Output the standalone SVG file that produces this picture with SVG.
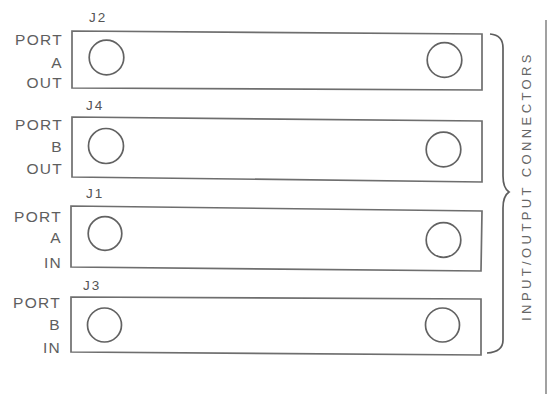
<svg xmlns="http://www.w3.org/2000/svg" width="549" height="394" viewBox="0 0 549 394">
<style>
.bg{fill:#ffffff}
.box{fill:none;stroke:#6e6e6e;stroke-width:1.7}
.hole{fill:none;stroke:#626262;stroke-width:1.7}
.lbl{font-family:"Liberation Sans",Arial,sans-serif;font-size:15.5px;fill:#5e5e5e;letter-spacing:1.3px;text-anchor:end}
.jn{font-family:"Liberation Sans",Arial,sans-serif;font-size:13.5px;fill:#555555;letter-spacing:2px}
.side{font-family:"Liberation Sans",Arial,sans-serif;font-size:13px;fill:#666666;letter-spacing:3.4px;text-anchor:middle}
.brace{fill:none;stroke:#5e5e5e;stroke-width:1.7}
.edge{fill:none;stroke:#8a8a8a;stroke-width:1.6}
</style>
<rect class="bg" x="0" y="0" width="549" height="394"/>
<g id="J2">
<text class="jn" x="89" y="22">J2</text>
<text class="lbl" x="63" y="45">PORT</text>
<text class="lbl" x="63" y="68">A</text>
<text class="lbl" x="63" y="88">OUT</text>
<path class="box" d="M72,31 L482,34 L482,90 L72,88 Z"/>
<circle class="hole" cx="106.5" cy="57.5" r="17.3"/>
<circle class="hole" cx="444.5" cy="60" r="17.3"/>
</g>
<g id="J4">
<text class="jn" x="86" y="110">J4</text>
<text class="lbl" x="63" y="130">PORT</text>
<text class="lbl" x="63" y="152">B</text>
<text class="lbl" x="63" y="174">OUT</text>
<path class="box" d="M72,117 L482,121 L482,182 L72,177 Z"/>
<circle class="hole" cx="106" cy="146" r="17.5"/>
<circle class="hole" cx="443.5" cy="149.5" r="17.3"/>
</g>
<g id="J1">
<text class="jn" x="86" y="198">J1</text>
<text class="lbl" x="62" y="222">PORT</text>
<text class="lbl" x="62" y="243">A</text>
<text class="lbl" x="62" y="268">IN</text>
<path class="box" d="M71,206 L482,211 L481,271 L71,267 Z"/>
<circle class="hole" cx="105" cy="233.5" r="16.8"/>
<circle class="hole" cx="443.5" cy="240" r="17.3"/>
</g>
<g id="J3">
<text class="jn" x="83" y="290">J3</text>
<text class="lbl" x="61" y="308">PORT</text>
<text class="lbl" x="61" y="330">B</text>
<text class="lbl" x="61" y="353">IN</text>
<path class="box" d="M71,297 L481,299 L481,355 L71,352 Z"/>
<circle class="hole" cx="104.5" cy="325" r="17"/>
<circle class="hole" cx="442.5" cy="325" r="17"/>
</g>
<g id="connectors">
<path class="brace" d="M490,34 Q503,35 503,48 L503,176 Q503,188 509,192 Q503,196 503,208 L503,340 Q503,352 487,353"/>
<line class="edge" x1="546" y1="20" x2="546" y2="394"/>
</g>
<g id="caption">
<text class="side" transform="translate(531,186) rotate(-90)">INPUT/OUTPUT CONNECTORS</text>
</g>
</svg>
